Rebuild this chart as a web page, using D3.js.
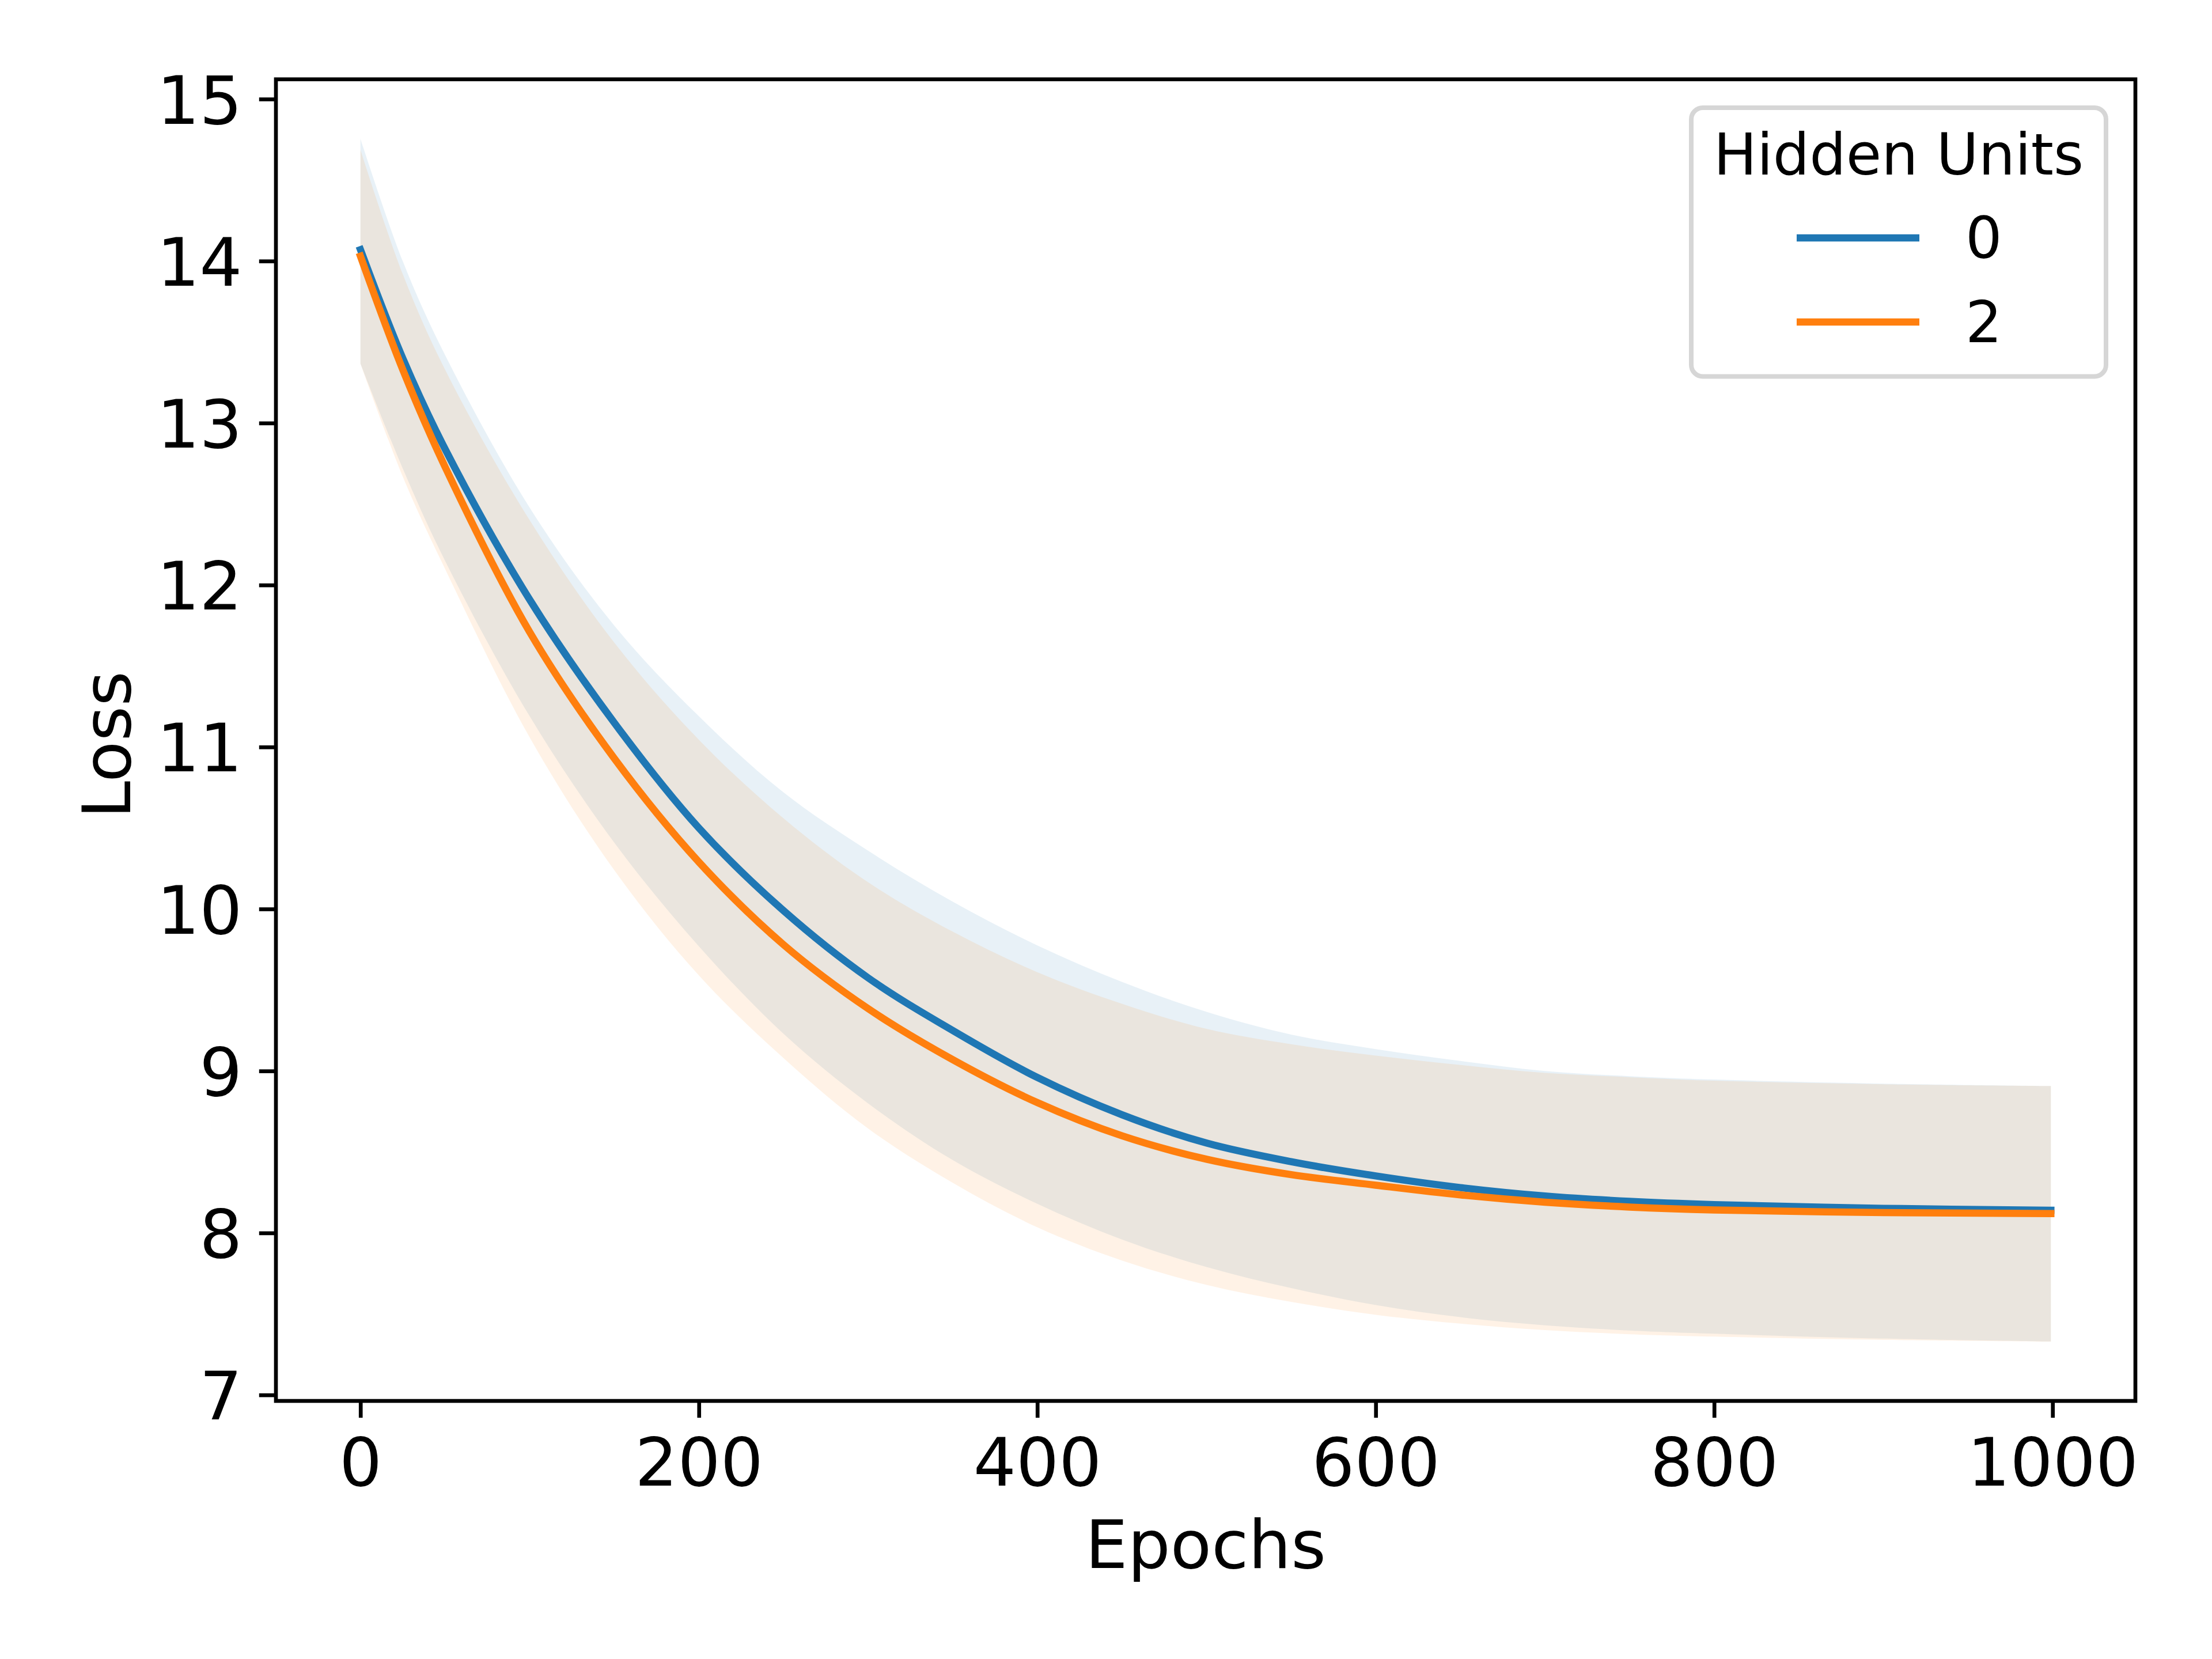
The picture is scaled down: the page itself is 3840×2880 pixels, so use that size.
<!DOCTYPE html>
<html>
<head>
<meta charset="utf-8">
<script src="https://cdn.jsdelivr.net/npm/d3@7"></script>
<style>
  html, body { margin: 0; padding: 0; background: #ffffff; }
  svg { display: block; }
  text { font-family: "DejaVu Sans", sans-serif; fill: #000; }
</style>
</head>
<body>
<svg id="chart" width="3840" height="2880"></svg>
<script>
// ---------------- data ----------------
const epochs = [0, 25, 50, 100, 150, 200, 250, 300, 350, 400, 450, 500, 550, 600, 650, 700, 750, 800, 900, 999];

// Hidden Units = 0 (blue): mean line and band edges
const meanH0  = [14.07, 13.40, 12.84, 11.91, 11.15, 10.50, 9.99, 9.575, 9.25, 8.96, 8.73, 8.555, 8.44, 8.352, 8.28, 8.228, 8.195, 8.175, 8.152, 8.14];
const upperH0 = [14.755, 14.00, 13.42, 12.478, 11.75, 11.19, 10.72, 10.36, 10.045, 9.775, 9.55, 9.365, 9.225, 9.135, 9.062, 9.00, 8.968, 8.947, 8.922, 8.907];
const lowerH0 = [13.367, 12.72, 12.15, 11.19, 10.41, 9.77, 9.23, 8.80, 8.45, 8.18, 7.96, 7.79, 7.66, 7.555, 7.48, 7.43, 7.398, 7.378, 7.348, 7.33];

// Hidden Units = 2 (orange): mean line and band edges
const meanH2  = [14.03, 13.33, 12.73, 11.71, 10.93, 10.29, 9.78, 9.385, 9.07, 8.805, 8.60, 8.455, 8.36, 8.295, 8.235, 8.19, 8.16, 8.142, 8.126, 8.12];
const upperH2 = [14.687, 13.92, 13.33, 12.40, 11.645, 11.045, 10.56, 10.165, 9.86, 9.61, 9.415, 9.26, 9.165, 9.095, 9.037, 8.988, 8.962, 8.94, 8.918, 8.907];
const lowerH2 = [13.367, 12.67, 12.10, 11.06, 10.24, 9.59, 9.08, 8.645, 8.31, 8.035, 7.83, 7.68, 7.575, 7.495, 7.44, 7.40, 7.375, 7.36, 7.34, 7.329];

const seriesNames = ["0", "2"];
const seriesColors = ["#1f77b4", "#ff7f0e"];
const xTicks = [0, 200, 400, 600, 800, 1000];
const yTicks = [7, 8, 9, 10, 11, 12, 13, 14, 15];
const xLabel = "Epochs";
const yLabel = "Loss";
const legendTitle = "Hidden Units";

(function draw() {
  // ---------------- layout ----------------
  const pLeft = 479, pRight = 3707, pTop = 137.7, pBottom = 2432;
  const spineW = 6.67, tickLen = 29.2, tickPad = 29.2;
  const tickFont = 116.7, labelFont = 116.7, legendFont = 100;

  const svg = d3.select("#chart");

  const x = d3.scaleLinear().domain([-49.95, 1048.95]).range([pLeft, pRight]);
  const y = d3.scaleLinear().domain([6.963, 15.122]).range([pBottom, pTop]);

  const series = [
    { name: seriesNames[0], color: seriesColors[0], mean: meanH0, lo: lowerH0, hi: upperH0 },
    { name: seriesNames[1], color: seriesColors[1], mean: meanH2, lo: lowerH2, hi: upperH2 }
  ];

  const clipId = "plotclip";
  svg.append("defs").append("clipPath").attr("id", clipId)
    .append("rect").attr("x", pLeft).attr("y", pTop)
    .attr("width", pRight - pLeft).attr("height", pBottom - pTop);

  const plot = svg.append("g").attr("clip-path", `url(#${clipId})`);

  const curve = d3.curveCatmullRom.alpha(0.5);
  const area = d3.area()
    .x(d => x(d.e)).y0(d => y(d.lo)).y1(d => y(d.hi))
    .curve(curve);
  const line = d3.line()
    .x(d => x(d.e)).y(d => y(d.m))
    .curve(curve);

  series.forEach(s => {
    const rows = epochs.map((e, i) => ({ e, lo: s.lo[i], hi: s.hi[i] }));
    plot.append("path").datum(rows)
      .attr("d", area)
      .attr("fill", s.color).attr("fill-opacity", 0.1).attr("stroke", "none");
  });
  series.forEach(s => {
    const rows = epochs.map((e, i) => ({ e, m: s.mean[i] }));
    plot.append("path").datum(rows)
      .attr("d", line)
      .attr("fill", "none").attr("stroke", s.color)
      .attr("stroke-width", 12.5).attr("stroke-linecap", "square").attr("stroke-linejoin", "round");
  });

  // ---------------- axes ----------------
  const xAxis = d3.axisBottom(x).tickValues(xTicks).tickFormat(d3.format("d"))
    .tickSize(tickLen).tickPadding(tickPad);
  const gx = svg.append("g").attr("transform", `translate(0,${pBottom})`).call(xAxis);
  gx.select(".domain").remove();
  gx.selectAll(".tick line").attr("stroke", "#000").attr("stroke-width", spineW);
  gx.selectAll(".tick text")
    .attr("font-family", "DejaVu Sans").attr("font-size", tickFont)
    .attr("fill", "#000").attr("dy", "0.76em");

  const yAxis = d3.axisLeft(y).tickValues(yTicks).tickFormat(d3.format("d"))
    .tickSize(tickLen).tickPadding(tickPad);
  const gy = svg.append("g").attr("transform", `translate(${pLeft},0)`).call(yAxis);
  gy.select(".domain").remove();
  gy.selectAll(".tick line").attr("stroke", "#000").attr("stroke-width", spineW);
  gy.selectAll(".tick text")
    .attr("font-family", "DejaVu Sans").attr("font-size", tickFont)
    .attr("fill", "#000").attr("dy", "0.36em");

  // spines
  svg.append("rect")
    .attr("x", pLeft).attr("y", pTop).attr("width", pRight - pLeft).attr("height", pBottom - pTop)
    .attr("fill", "none").attr("stroke", "#000").attr("stroke-width", spineW)
    .attr("stroke-linejoin", "miter");

  // axis labels
  svg.append("text")
    .attr("x", (pLeft + pRight) / 2).attr("y", 2722)
    .attr("text-anchor", "middle").attr("font-size", labelFont)
    .text(xLabel);
  svg.append("text")
    .attr("transform", `translate(226,1293) rotate(-90)`)
    .attr("text-anchor", "middle").attr("font-size", labelFont)
    .text(yLabel);

  // ---------------- legend ----------------
  const lg = svg.append("g");
  lg.append("rect")
    .attr("x", 2936).attr("y", 187).attr("width", 3656 - 2936).attr("height", 653.5 - 187)
    .attr("rx", 20).attr("ry", 20)
    .attr("fill", "#ffffff").attr("fill-opacity", 0.8)
    .attr("stroke", "#cccccc").attr("stroke-opacity", 0.8).attr("stroke-width", 8);
  lg.append("text")
    .attr("x", 3296).attr("y", 303).attr("text-anchor", "middle")
    .attr("font-size", legendFont).text(legendTitle);
  const entryY = [413, 559];
  series.forEach((s, i) => {
    lg.append("line")
      .attr("x1", 3119).attr("x2", 3332).attr("y1", entryY[i]).attr("y2", entryY[i])
      .attr("stroke", s.color).attr("stroke-width", 12.5);
    lg.append("text")
      .attr("x", 3412).attr("y", entryY[i] + 35)
      .attr("font-size", legendFont).text(s.name);
  });
})();
</script>
</body>
</html>
